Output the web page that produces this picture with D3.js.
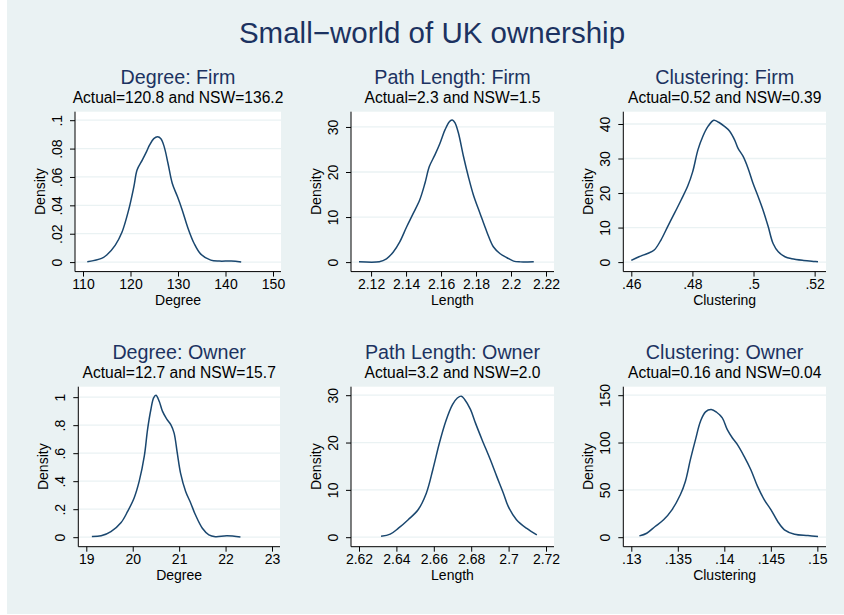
<!DOCTYPE html>
<html>
<head>
<meta charset="utf-8">
<script src="https://cdn.jsdelivr.net/npm/d3@7"></script>
<style>
  body { margin: 0; background: #ffffff; }
  svg { display: block; font-family: "Liberation Sans", Arial, sans-serif; }
  .graph-title { fill: #1c3261; font-size: 29.5px; text-anchor: middle; }
  .panel-title { fill: #1c3261; font-size: 19.7px; text-anchor: middle; }
  .panel-subtitle { fill: #000; font-size: 15.6px; text-anchor: middle; }
  .axis-title { fill: #000; font-size: 14px; text-anchor: middle; }
  .tick text { fill: #000; font-size: 14px; font-family: "Liberation Sans", Arial, sans-serif; }
  .tick line { stroke: #000; }
  .axis-line { stroke: #000; stroke-width: 1; }
  .grid { stroke: #eaf2f3; stroke-width: 1.3; }
  .density { fill: none; stroke: #1a476f; stroke-width: 1.5; }
</style>
</head>
<body>
<div id="wrapper"></div>
<script>
// chart data

const graphTitle = "Small\u2212world of UK ownership"
const panelTitles = ["Degree: Firm", "Path Length: Firm", "Clustering: Firm",
  "Degree: Owner", "Path Length: Owner", "Clustering: Owner"]
const panelSubtitles = ["Actual=120.8 and NSW=136.2", "Actual=2.3 and NSW=1.5",
  "Actual=0.52 and NSW=0.39", "Actual=12.7 and NSW=15.7",
  "Actual=3.2 and NSW=2.0", "Actual=0.16 and NSW=0.04"]
const xTitles = ["Degree", "Length", "Clustering", "Degree", "Length", "Clustering"]
const yTitle = "Density"

// Degree: Firm
const degreeFirmX = [110.9, 113.9, 115, 116.8, 118.2, 119.6, 120.7, 121.4, 122.5, 123.4, 124.0,
  124.9, 125.7, 126.4, 127.1, 127.9, 128.8, 129.9, 130.9, 132, 133.4, 134.8, 136.9, 138.7,
  141.2, 143.3]
const degreeFirmY = [0.0002, 0.0026, 0.005, 0.012, 0.021, 0.0366, 0.053, 0.065, 0.072, 0.078,
  0.0824, 0.087, 0.0883, 0.087, 0.0812, 0.0695, 0.0554, 0.046, 0.0366, 0.0249, 0.0131,
  0.0056, 0.0014, 0.0007, 0.0007, 0]
const degreeFirmXTicks = [110, 120, 130, 140, 150]
const degreeFirmXLabels = ["110", "120", "130", "140", "150"]
const degreeFirmYTicks = [0, 0.02, 0.04, 0.06, 0.08, 0.1]
const degreeFirmYLabels = ["0", ".02", ".04", ".06", ".08", ".1"]

// Path Length: Firm
const pathFirmX = [2.1131, 2.1247, 2.1288, 2.1326, 2.1364, 2.1403, 2.1441, 2.1479, 2.1508,
  2.1533, 2.1565, 2.1594, 2.1623, 2.1651, 2.1667, 2.168, 2.1699, 2.1728, 2.1756, 2.1785,
  2.1823, 2.1862, 2.19, 2.1938, 2.1977, 2.2015, 2.2053, 2.213]
const pathFirmY = [0.1, 0.1, 0.74, 2.2, 4.5, 7.8, 10.8, 13.9, 17.5, 21.2, 23.8, 26.4, 29.4,
  31.3, 31.5, 30.9, 28.7, 23.5, 19.0, 14.9, 10.8, 6.7, 3.35, 1.86, 0.97, 0.22, 0.05, 0.1]
const pathFirmXTicks = [2.12, 2.14, 2.16, 2.18, 2.2, 2.22]
const pathFirmXLabels = ["2.12", "2.14", "2.16", "2.18", "2.2", "2.22"]
const pathFirmYTicks = [0, 10, 20, 30]
const pathFirmYLabels = ["0", "10", "20", "30"]

// Clustering: Firm
const clusterFirmX = [0.46, 0.4625, 0.4653, 0.4675, 0.4697, 0.4719, 0.4741, 0.4763, 0.4785,
  0.4801, 0.4818, 0.4834, 0.4851, 0.487, 0.4886, 0.4905, 0.4922, 0.4938, 0.4949, 0.4966,
  0.4982, 0.4998, 0.5015, 0.5031, 0.5048, 0.5064, 0.5081, 0.5103, 0.5125, 0.5164, 0.52,
  0.5211]
const clusterFirmY = [0.48, 1.55, 2.5, 3.5, 6.4, 10.3, 14.1, 18.0, 22.1, 26.2, 32.5, 36.4,
  39.3, 41.1, 40.5, 39.3, 37.9, 35.4, 33.0, 30.6, 27.2, 22.9, 19.0, 15.1, 10.3, 5.4, 3.0,
  1.55, 0.97, 0.48, 0.19, 0.1]
const clusterFirmXTicks = [0.46, 0.48, 0.5, 0.52]
const clusterFirmXLabels = [".46", ".48", ".5", ".52"]
const clusterFirmYTicks = [0, 10, 20, 30, 40]
const clusterFirmYLabels = ["0", "10", "20", "30", "40"]

// Degree: Owner
const degreeOwnerX = [19.12, 19.32, 19.53, 19.75, 19.89, 20.03, 20.14, 20.25, 20.32, 20.39,
  20.45, 20.5, 20.57, 20.64, 20.73, 20.82, 20.89, 20.96, 21.03, 21.14, 21.25, 21.35, 21.5,
  21.64, 21.78, 22.03, 22.32]
const degreeOwnerY = [0.005, 0.01, 0.04, 0.105, 0.184, 0.28, 0.40, 0.58, 0.77, 0.91, 0.995,
  1.014, 0.971, 0.90, 0.845, 0.804, 0.745, 0.60, 0.458, 0.327, 0.243, 0.16, 0.064, 0.017,
  0.004, 0.01, 0.002]
const degreeOwnerXTicks = [19, 20, 21, 22, 23]
const degreeOwnerXLabels = ["19", "20", "21", "22", "23"]
const degreeOwnerYTicks = [0, 0.2, 0.4, 0.6, 0.8, 1]
const degreeOwnerYLabels = ["0", ".2", ".4", ".6", ".8", "1"]

// Path Length: Owner
const pathOwnerX = [2.6318, 2.6367, 2.6411, 2.6463, 2.6516, 2.656, 2.6595, 2.663, 2.6665,
  2.67, 2.6726, 2.6747, 2.6765, 2.6796, 2.6823, 2.6858, 2.6902, 2.6937, 2.6972, 2.6998,
  2.7042, 2.7095, 2.7151]
const pathOwnerY = [0.2, 0.64, 1.9, 3.7, 5.8, 9.3, 14.3, 19.9, 24.6, 28.0, 29.4, 29.8, 29.1,
  27.0, 24.1, 20.6, 16.4, 12.8, 9.3, 6.5, 3.7, 1.9, 0.5]
const pathOwnerXTicks = [2.62, 2.64, 2.66, 2.68, 2.7, 2.72]
const pathOwnerXLabels = ["2.62", "2.64", "2.66", "2.68", "2.7", "2.72"]
const pathOwnerYTicks = [0, 10, 20, 30]
const pathOwnerYLabels = ["0", "10", "20", "30"]

// Clustering: Owner
const clusterOwnerX = [0.13087, 0.13166, 0.13256, 0.13347, 0.13437, 0.13527, 0.13581,
  0.13635, 0.1369, 0.13744, 0.13798, 0.13859, 0.13917, 0.13978, 0.14032, 0.14087, 0.14141,
  0.14213, 0.14285, 0.14357, 0.1443, 0.14502, 0.14574, 0.14646, 0.14755, 0.14899, 0.15007]
const clusterOwnerY = [1.4, 4.2, 11.3, 18.4, 28.9, 44.8, 58.9, 81.9, 103.1, 122.5, 132.4,
  134.8, 132.0, 126.0, 113.6, 104.8, 97.8, 85.4, 71.3, 53.7, 39.5, 28.9, 16.6, 7.8, 3.2,
  1.8, 0.7]
const clusterOwnerXTicks = [0.13, 0.135, 0.14, 0.145, 0.15]
const clusterOwnerXLabels = [".13", ".135", ".14", ".145", ".15"]
const clusterOwnerYTicks = [0, 50, 100, 150]
const clusterOwnerYLabels = ["0", "50", "100", "150"]

function drawSmallWorld() {

  // 1. Access data

  const panels = [
    { x: degreeFirmX, y: degreeFirmY, xTicks: degreeFirmXTicks, xLabels: degreeFirmXLabels,
      yTicks: degreeFirmYTicks, yLabels: degreeFirmYLabels },
    { x: pathFirmX, y: pathFirmY, xTicks: pathFirmXTicks, xLabels: pathFirmXLabels,
      yTicks: pathFirmYTicks, yLabels: pathFirmYLabels },
    { x: clusterFirmX, y: clusterFirmY, xTicks: clusterFirmXTicks, xLabels: clusterFirmXLabels,
      yTicks: clusterFirmYTicks, yLabels: clusterFirmYLabels },
    { x: degreeOwnerX, y: degreeOwnerY, xTicks: degreeOwnerXTicks, xLabels: degreeOwnerXLabels,
      yTicks: degreeOwnerYTicks, yLabels: degreeOwnerYLabels },
    { x: pathOwnerX, y: pathOwnerY, xTicks: pathOwnerXTicks, xLabels: pathOwnerXLabels,
      yTicks: pathOwnerYTicks, yLabels: pathOwnerYLabels },
    { x: clusterOwnerX, y: clusterOwnerY, xTicks: clusterOwnerXTicks, xLabels: clusterOwnerXLabels,
      yTicks: clusterOwnerYTicks, yLabels: clusterOwnerYLabels },
  ]
  panels.forEach((p, i) => {
    p.title = panelTitles[i]
    p.subtitle = panelSubtitles[i]
    p.xTitle = xTitles[i]
    p.points = p.x.map((v, j) => [v, p.y[j]])
  })

  // 2. Create chart dimensions

  const dimensions = {
    width: 844,
    height: 615,
    bgLeft: 7,
    bgBottom: 614,
    // plot regions (white boxes) of the six panels
    lefts: [75, 351, 623.3, 78.3, 351, 623.3],
    rights: [281, 554, 826, 280, 554, 826],
    tops: [111.7, 386.7],
    bottoms: [271.6, 546.7],
    innerX: 8,
    innerTop: 8.5,
    innerBottom: 9.5,
    tickSize: 5,
    yLabelGap: 13,
    yTitleGap: 30,
  }

  // 3. Draw canvas

  const wrapper = d3.select("#wrapper")
    .append("svg")
      .attr("width", dimensions.width)
      .attr("height", dimensions.height)

  wrapper.append("rect")
      .attr("x", dimensions.bgLeft)
      .attr("y", 0)
      .attr("width", dimensions.width - dimensions.bgLeft)
      .attr("height", dimensions.bgBottom)
      .attr("fill", "#eaf2f3")

  wrapper.append("text")
      .attr("class", "graph-title")
      .attr("x", 432)
      .attr("y", 43)
      .text(graphTitle)

  panels.forEach((p, i) => {
    const row = Math.floor(i / 3)
    const left = dimensions.lefts[i]
    const right = dimensions.rights[i]
    const top = dimensions.tops[row]
    const bottom = dimensions.bottoms[row]

    const panel = wrapper.append("g")
        .attr("class", "panel")

    panel.append("rect")
        .attr("x", left)
        .attr("y", top)
        .attr("width", right - left)
        .attr("height", bottom - top)
        .attr("fill", "#ffffff")

    // 4. Create scales

    const xScale = d3.scaleLinear()
      .domain(d3.extent([...p.xTicks, ...p.x]))
      .range([left + dimensions.innerX, right - dimensions.innerX])

    const yScale = d3.scaleLinear()
      .domain([0, d3.max([...p.yTicks, ...p.y])])
      .range([bottom - dimensions.innerBottom, top + dimensions.innerTop])

    // gridlines
    panel.append("g")
      .selectAll("line")
      .data(p.yTicks)
      .join("line")
        .attr("class", "grid")
        .attr("x1", left)
        .attr("x2", right)
        .attr("y1", d => yScale(d))
        .attr("y2", d => yScale(d))

    // 5. Draw data

    const lineGenerator = d3.line()
      .x(d => xScale(d[0]))
      .y(d => yScale(d[1]))
      .curve(d3.curveCatmullRom.alpha(0.5))

    panel.append("path")
        .attr("class", "density")
        .attr("d", lineGenerator(p.points))

    // 6. Draw peripherals

    const xAxisGenerator = d3.axisBottom(xScale)
      .tickValues(p.xTicks)
      .tickFormat((d, j) => p.xLabels[j])
      .tickSizeInner(dimensions.tickSize)
      .tickSizeOuter(0)
      .tickPadding(4)

    const xAxis = panel.append("g")
        .attr("transform", `translate(0, ${bottom})`)
        .call(xAxisGenerator)
    xAxis.select(".domain").remove()
    xAxis.selectAll(".tick text")
        .attr("y", 17.8)
        .attr("dy", 0)

    const yAxisGenerator = d3.axisLeft(yScale)
      .tickValues(p.yTicks)
      .tickFormat((d, j) => p.yLabels[j])
      .tickSizeInner(dimensions.tickSize)
      .tickSizeOuter(0)

    const yAxis = panel.append("g")
        .attr("transform", `translate(${left}, 0)`)
        .call(yAxisGenerator)
    yAxis.select(".domain").remove()
    yAxis.selectAll(".tick text")
        .attr("transform", "rotate(-90)")
        .attr("x", 0)
        .attr("y", -dimensions.yLabelGap)
        .attr("dy", 0)
        .attr("text-anchor", "middle")

    panel.append("line")
        .attr("class", "axis-line")
        .attr("x1", left)
        .attr("x2", left)
        .attr("y1", top)
        .attr("y2", bottom)
    panel.append("line")
        .attr("class", "axis-line")
        .attr("x1", left)
        .attr("x2", right)
        .attr("y1", bottom)
        .attr("y2", bottom)

    const centerX = (left + right) / 2

    panel.append("text")
        .attr("class", "axis-title")
        .attr("x", centerX)
        .attr("y", bottom + 33.5)
        .text(p.xTitle)

    panel.append("text")
        .attr("class", "axis-title")
        .attr("transform", `translate(${left - dimensions.yTitleGap}, ${(top + bottom) / 2}) rotate(-90)`)
        .text(yTitle)

    panel.append("text")
        .attr("class", "panel-title")
        .attr("x", centerX)
        .attr("y", top - 28)
        .text(p.title)

    panel.append("text")
        .attr("class", "panel-subtitle")
        .attr("x", centerX)
        .attr("y", top - 8.5)
        .text(p.subtitle)
  })
}
drawSmallWorld()
</script>
</body>
</html>
